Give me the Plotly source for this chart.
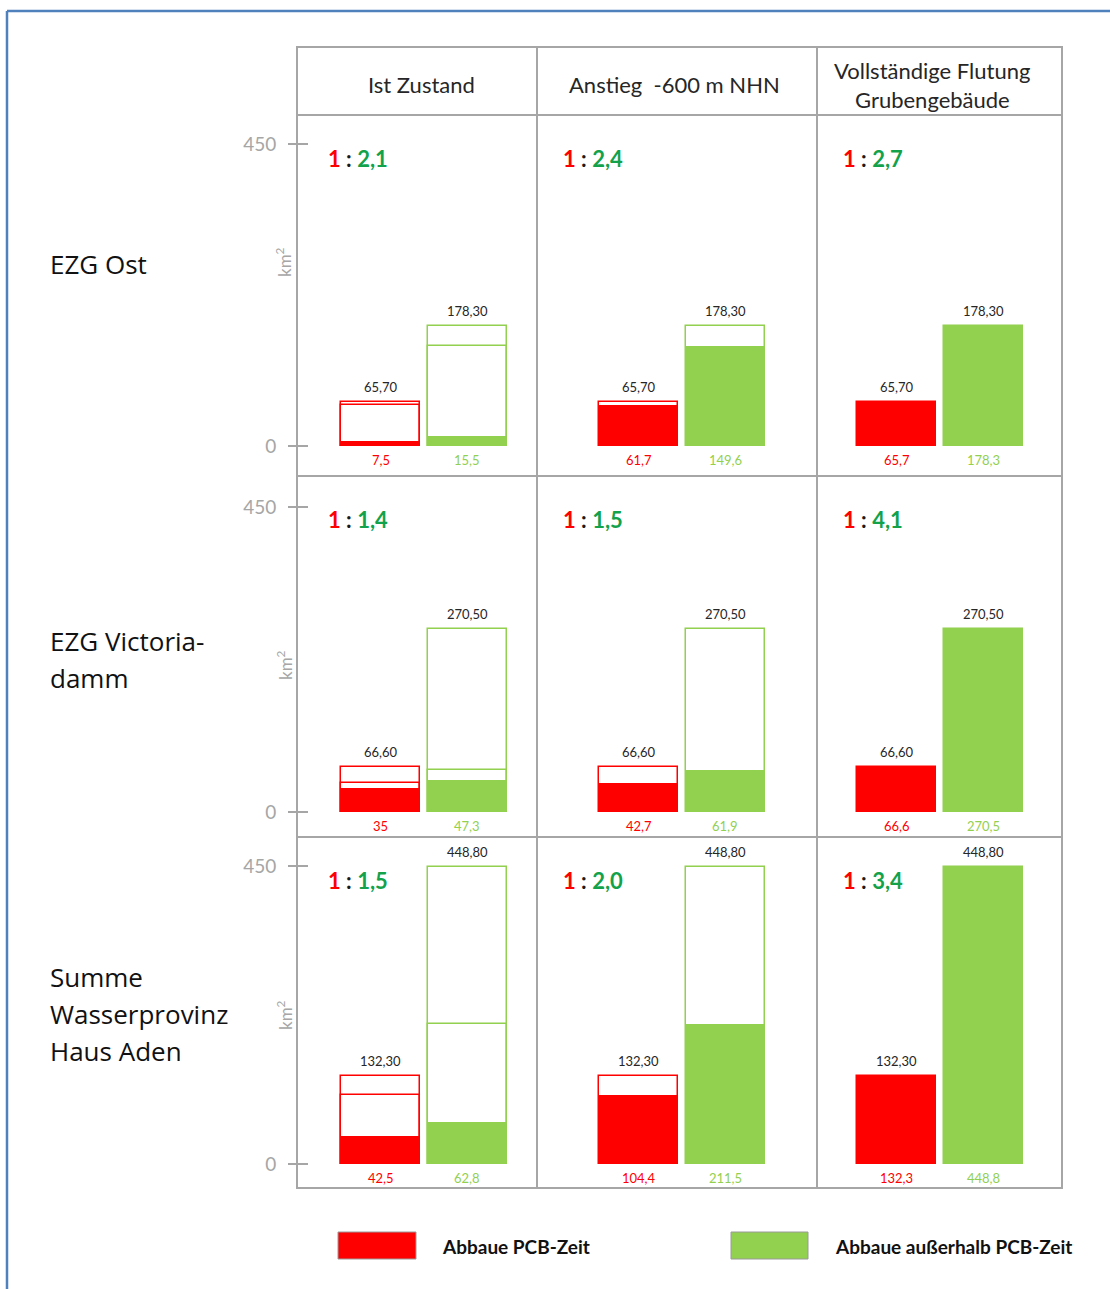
import plotly.graph_objects as go

W, H = 1110, 1289

# ---- data -------------------------------------------------------------
row_labels = [["EZG Ost"], ["EZG Victoria-", "damm"], ["Summe", "Wasserprovinz", "Haus Aden"]]
scenarios = [["Ist Zustand"], ["Anstieg  -600 m NHN"], ["Vollständige Flutung", "Grubengebäude"]]
categories = ["Abbaue PCB-Zeit", "Abbaue außerhalb PCB-Zeit"]

pcb_total = [65.7, 66.6, 132.3]
other_total = [178.3, 270.5, 448.8]

pcb_ist = [7.5, 35, 42.5]
pcb_anstieg = [61.7, 42.7, 104.4]
pcb_voll = [65.7, 66.6, 132.3]

other_ist = [15.5, 47.3, 62.8]
other_anstieg = [149.6, 61.9, 211.5]
other_voll = [178.3, 270.5, 448.8]

ratios = [["2,1", "2,4", "2,7"],
          ["1,4", "1,5", "4,1"],
          ["1,5", "2,0", "3,4"]]

y_ticks = [0, 450]

# ---- styling / layout in pixels ---------------------------------------
RED = "#ff0000"
GREEN = "#92d050"
RATIO_GREEN = "#12a24b"
GRID = "#a6a6a6"
TEXT = "#262626"
FONT = "Lato"

col_edges = [297, 537, 817, 1062]
row_edges = [115, 476, 837, 1188]
header_top = 47
header_centers = [421, 674, 932]
zero_px = [446, 812, 1164]
top_px = [144, 507, 866]          # pixel row of the 450 tick
red_center_px = [380.5, 638.5, 896.5]
step_px = 86.5                     # distance between the two bar centres
bar_width = 79 / step_px


def px(x):
    return x / W


def py(y):
    return 1 - y / H


def note(x, y, text, font, **kw):
    d = dict(x=px(x), y=py(y), xref="paper", yref="paper", text=text,
             showarrow=False, xanchor="center", yanchor="middle", font=font)
    d.update(kw)
    return d


pcb_vals = [pcb_ist, pcb_anstieg, pcb_voll]
other_vals = [other_ist, other_anstieg, other_voll]

fig = go.Figure()
annotations = []
shapes = []
layout_axes = {}

for r in range(3):
    t, b = row_edges[r], row_edges[r + 1]
    scale = (zero_px[r] - top_px[r]) / 450.0
    y_lo = -(b - zero_px[r]) / scale
    y_hi = 450 + (top_px[r] - t) / scale
    for c in range(3):
        k = r * 3 + c + 1
        xa = "x" if k == 1 else f"x{k}"
        ya = "y" if k == 1 else f"y{k}"
        l, rr = col_edges[c], col_edges[c + 1]
        x_lo = -(red_center_px[c] - l) / step_px
        x_hi = x_lo + (rr - l) / step_px

        layout_axes["xaxis" if k == 1 else f"xaxis{k}"] = dict(
            domain=[px(l), px(rr)], range=[x_lo, x_hi], visible=False,
            anchor=ya, fixedrange=True)
        yax = dict(domain=[py(b), py(t)], range=[y_lo, y_hi], anchor=xa,
                   showgrid=False, zeroline=False, showline=False, fixedrange=True)
        if c == 0:
            yax.update(anchor="free", position=px(308), ticks="outside", ticklen=20,
                       tickwidth=1.5, tickcolor=GRID, tickvals=y_ticks,
                       ticktext=[str(v) for v in y_ticks], ticklabelstandoff=8,
                       tickfont=dict(family=FONT, size=19, color=GRID))
        else:
            yax.update(visible=False)
        layout_axes["yaxis" if k == 1 else f"yaxis{k}"] = yax

        totals = [pcb_total[r], other_total[r]]
        vals = [pcb_vals[c][r], other_vals[c][r]]

        # outline up to the total area
        fig.add_trace(go.Bar(
            x=[0, 1], y=totals, width=bar_width, xaxis=xa, yaxis=ya,
            marker=dict(color="white", line=dict(color=[RED, GREEN], width=1.5)),
            showlegend=False, hoverinfo="skip"))
        # in the current state, also mark the -600 m level
        if c == 0:
            fig.add_trace(go.Bar(
                x=[0, 1], y=[pcb_anstieg[r], other_anstieg[r]], width=bar_width,
                xaxis=xa, yaxis=ya,
                marker=dict(color="rgba(0,0,0,0)", line=dict(color=[RED, GREEN], width=1.5)),
                showlegend=False, hoverinfo="skip"))
        # filled part
        fig.add_trace(go.Bar(
            x=[0, 1], y=vals, width=bar_width, xaxis=xa, yaxis=ya,
            marker=dict(color=[RED, GREEN], line=dict(width=0)),
            name="", showlegend=False,
            customdata=categories,
            hovertemplate="%{customdata}: %{y}<extra></extra>"))

        # labels: total above, value below
        for i in range(2):
            annotations.append(dict(
                x=i, y=totals[i], xref=xa, yref=ya, yshift=15,
                xanchor="center", yanchor="middle",
                text=f"{totals[i]:.2f}".replace(".", ","), showarrow=False,
                font=dict(family=FONT, size=13, color=TEXT)))
            v = vals[i]
            vtxt = f"{v:g}".replace(".", ",")
            annotations.append(dict(
                x=i, y=0, xref=xa, yref=ya, yshift=-14,
                xanchor="center", yanchor="middle",
                text=vtxt, showarrow=False,
                font=dict(family=FONT, size=13, color=[RED, GREEN][i])))

        # ratio
        annotations.append(note(
            l + (29 if c == 0 else 24), t + 43,
            (f"<b><span style='color:{RED}'>1</span> : "
             f"<span style='color:{RATIO_GREEN}'>{ratios[r][c]}</span></b>"),
            dict(family=FONT, size=22, color="#1a1a1a"), xanchor="left"))

    # km² label
    annotations.append(note(
        284, [262, 665, 1015][r], "km<sup>2</sup>",
        dict(family=FONT, size=17, color=GRID), textangle=-90))

    # row labels
    lines = row_labels[r]
    mid = [264, 659, 1013.5][r]
    for j, line in enumerate(lines):
        yy = mid + (j - (len(lines) - 1) / 2) * 37
        annotations.append(note(
            48, yy, line, dict(family="Open Sans", size=26, color="#111111"),
            xanchor="left"))

# header texts
for c, lines in enumerate(scenarios):
    for j, line in enumerate(lines):
        yy = 85 + (j - (len(lines) - 1) / 2) * 29
        annotations.append(note(header_centers[c], yy, line,
                                dict(family=FONT, size=22, color=TEXT)))

# table grid
line_style = dict(color=GRID, width=2)
shapes.append(dict(type="rect", xref="paper", yref="paper",
                   x0=px(col_edges[0]), x1=px(col_edges[-1]),
                   y0=py(row_edges[-1]), y1=py(header_top), line=line_style))
for x in col_edges[1:-1]:
    shapes.append(dict(type="line", xref="paper", yref="paper",
                       x0=px(x), x1=px(x), y0=py(row_edges[-1]), y1=py(header_top),
                       line=line_style))
for y in row_edges[:-1]:
    shapes.append(dict(type="line", xref="paper", yref="paper",
                       x0=px(col_edges[0]), x1=px(col_edges[-1]), y0=py(y), y1=py(y),
                       line=line_style))

# outer blue frame
shapes.append(dict(type="line", xref="paper", yref="paper",
                   x0=px(7), x1=px(7), y0=0, y1=py(11),
                   line=dict(color="#4f81bd", width=2.5)))
shapes.append(dict(type="line", xref="paper", yref="paper",
                   x0=px(7), x1=1, y0=py(11), y1=py(11),
                   line=dict(color="#4f81bd", width=2.5)))

# legend
for (x0, x1, tx), col, name in zip([(338, 416, 440), (731, 808, 833)], [RED, GREEN], categories):
    shapes.append(dict(type="rect", xref="paper", yref="paper",
                       x0=px(x0), x1=px(x1), y0=py(1259), y1=py(1232),
                       fillcolor=col, line=dict(color="#9a9a9a", width=1)))
    annotations.append(note(tx, 1246, f"<b>{name}</b>",
                            dict(family=FONT, size=19, color="#111111"), xanchor="left"))

fig.update_layout(
    width=W, height=H, autosize=False,
    margin=dict(l=0, r=0, t=0, b=0),
    paper_bgcolor="white", plot_bgcolor="rgba(0,0,0,0)",
    barmode="overlay", bargap=0,
    showlegend=False,
    annotations=annotations, shapes=shapes,
    **layout_axes,
)

fig.write_html("out.html", config={"displayModeBar": False},
               post_script="document.body.style.margin='0';")
